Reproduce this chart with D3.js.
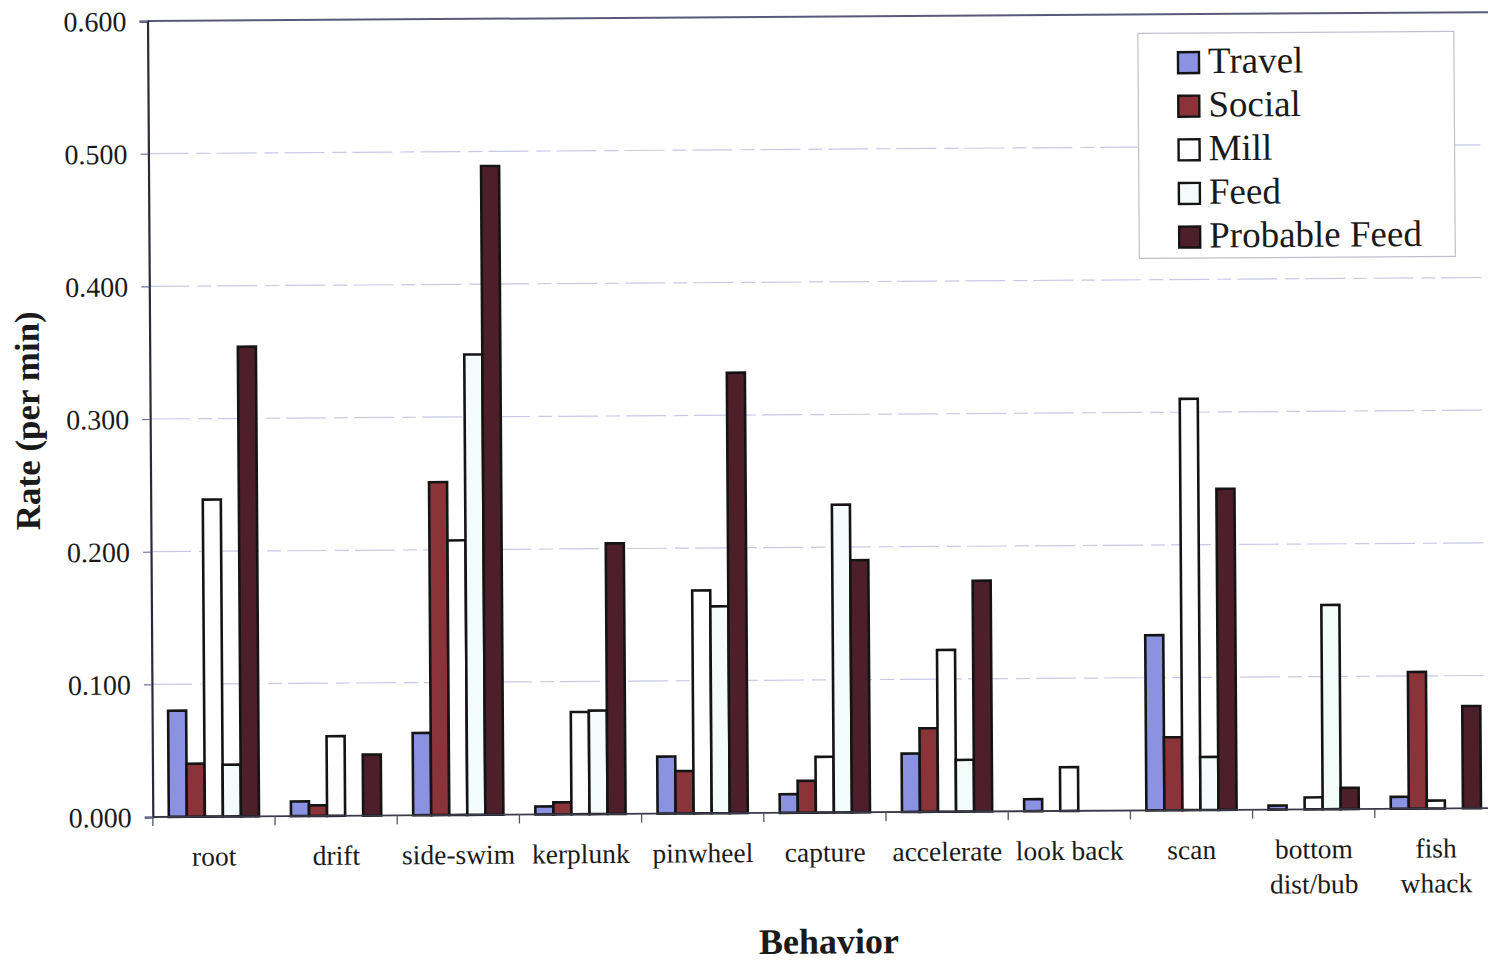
<!DOCTYPE html>
<html>
<head>
<meta charset="utf-8">
<script src="https://cdn.jsdelivr.net/npm/d3@7/dist/d3.min.js"></script>
<style>
  html, body { margin: 0; padding: 0; background: #ffffff; }
  svg { display: block; }
  text { font-family: "Liberation Serif", "Times New Roman", serif; fill: #1a1a1a; }
</style>
</head>
<body>
<svg id="chart" width="1488" height="964"></svg>
<script>
// ---- data ----
const categories = ["root", "drift", "side-swim", "kerplunk", "pinwheel", "capture", "accelerate", "look back", "scan", "bottom dist/bub", "fish whack"];
const categoryLines = [["root"], ["drift"], ["side-swim"], ["kerplunk"], ["pinwheel"], ["capture"], ["accelerate"], ["look back"], ["scan"], ["bottom", "dist/bub"], ["fish", "whack"]];
const seriesNames = ["Travel", "Social", "Mill", "Feed", "Probable Feed"];
const travel   = [0.080, 0.011, 0.062, 0.006, 0.043, 0.014, 0.044, 0.009, 0.132, 0.003, 0.009];
const social   = [0.040, 0.008, 0.251, 0.009, 0.032, 0.024, 0.063, 0.000, 0.055, 0.000, 0.103];
const mill     = [0.239, 0.060, 0.207, 0.077, 0.168, 0.042, 0.122, 0.033, 0.310, 0.009, 0.006];
const feed     = [0.039, 0.000, 0.347, 0.078, 0.156, 0.232, 0.039, 0.000, 0.040, 0.154, 0.000];
const probFeed = [0.354, 0.046, 0.489, 0.204, 0.332, 0.190, 0.174, 0.000, 0.242, 0.016, 0.077];
const yTicks = [0, 0.1, 0.2, 0.3, 0.4, 0.5, 0.6];
const seriesColors = ["#8c92e2", "#8a3439", "#ffffff", "#f3fbfb", "#4d1f2b"];

const seriesValues = [travel, social, mill, feed, probFeed];

// ---- layout ----
const x0 = 152.8, catW = 122.2;
const plotRight = x0 + catW * categories.length;
const yBase = 817, yTop = 21;

const svg = d3.select("#chart");
const g = svg.append("g").attr("transform", `rotate(-0.38, ${x0}, ${yBase})`);

const x = d3.scaleBand().domain(categories).range([x0, plotRight]).padding(0);
const xs = d3.scaleBand().domain(seriesNames).range([16, catW - 16]).padding(0);
const y = d3.scaleLinear().domain([0, 0.6]).range([yBase, yTop]);

// gridlines
g.append("g").selectAll("line").data(yTicks.filter(d => d > 0 && d < 0.6)).join("line")
  .attr("x1", x0).attr("x2", plotRight)
  .attr("y1", d => y(d)).attr("y2", d => y(d))
  .attr("stroke", "#c8c8e8").attr("stroke-width", 1.2)
  .attr("stroke-dasharray", "40,8,14,6");

// top border
g.append("line").attr("x1", x0).attr("x2", plotRight).attr("y1", y(0.6)).attr("y2", y(0.6))
  .attr("stroke", "#5a5a78").attr("stroke-width", 2);

// bars
const rows = [];
categories.forEach((c, i) => {
  seriesNames.forEach((s, j) => {
    const v = seriesValues[j][i];
    if (v > 0) rows.push({ c, s, v, j });
  });
});
g.append("g").selectAll("rect").data(rows).join("rect")
  .attr("x", d => x(d.c) + xs(d.s))
  .attr("width", xs.bandwidth())
  .attr("y", d => y(d.v))
  .attr("height", d => y(0) - y(d.v))
  .attr("fill", d => seriesColors[d.j])
  .attr("stroke", "#141414").attr("stroke-width", 2.6);

// y axis
const yAxis = d3.axisLeft(y).tickValues(yTicks).tickFormat(d3.format(".3f")).tickSize(8).tickPadding(13);
const ya = g.append("g").attr("transform", `translate(${x0},0)`).call(yAxis);
ya.select(".domain").attr("stroke", "#2a2a3a").attr("stroke-width", 2.2);
ya.selectAll(".tick line").attr("stroke", "#7070a0").attr("stroke-width", 1.2);
ya.selectAll(".tick text").attr("font-size", 28).attr("fill", "#1a1a1a")
  .attr("font-family", "Liberation Serif, serif").attr("dy", "0.34em");

// x axis baseline and ticks between categories
g.append("line").attr("x1", x0).attr("x2", plotRight).attr("y1", yBase).attr("y2", yBase)
  .attr("stroke", "#3a3a48").attr("stroke-width", 1.8);
g.append("g").selectAll("line").data(d3.range(categories.length + 1)).join("line")
  .attr("x1", i => x0 + i * catW).attr("x2", i => x0 + i * catW)
  .attr("y1", yBase).attr("y2", yBase + 9)
  .attr("stroke", "#555566").attr("stroke-width", 1.3);

// x category labels
const lab = g.append("g").selectAll("text").data(categories).join("text")
  .attr("x", c => x(c) + catW / 2)
  .attr("y", yBase + 49)
  .attr("text-anchor", "middle")
  .attr("font-size", 27.5);
lab.each(function (c, i) {
  const t = d3.select(this);
  categoryLines[i].forEach((ln, k) => {
    t.append("tspan").attr("x", x(c) + catW / 2).attr("dy", k === 0 ? 0 : 35).text(ln);
  });
});

// axis titles
g.append("text").attr("x", 828).attr("y", 958).attr("text-anchor", "middle")
  .attr("font-size", 36).attr("font-weight", "bold").text("Behavior");
g.append("text").attr("transform", "translate(42, 420) rotate(-90)").attr("text-anchor", "middle")
  .attr("font-size", 35).attr("font-weight", "bold").text("Rate (per min)");

// legend
const lg = g.append("g").attr("transform", "translate(1143, 40)");
lg.append("rect").attr("width", 316).attr("height", 225)
  .attr("fill", "#ffffff").attr("stroke", "#c0c0cc").attr("stroke-width", 1.2);
const li = lg.selectAll("g.item").data(seriesNames).join("g").attr("class", "item")
  .attr("transform", (d, i) => `translate(0, ${40 + i * 43.6})`);
li.append("rect").attr("x", 40).attr("y", -21).attr("width", 21).attr("height", 21)
  .attr("fill", (d, i) => seriesColors[i]).attr("stroke", "#141414").attr("stroke-width", 2.4);
li.append("text").attr("x", 70).attr("y", 0).attr("font-size", 37).text(d => d);
</script>
</body>
</html>
